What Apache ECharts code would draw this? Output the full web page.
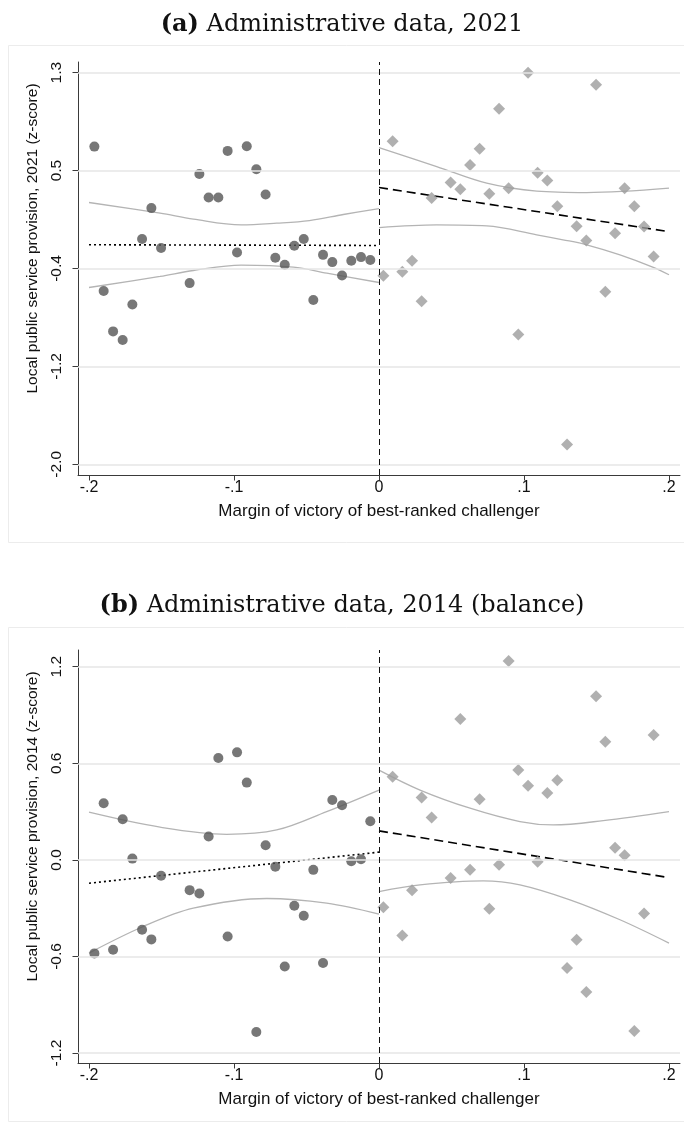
<!DOCTYPE html>
<html><head><meta charset="utf-8">
<script src="https://cdn.jsdelivr.net/npm/echarts@6/dist/echarts.min.js"></script>
<style>html,body{margin:0;padding:0;background:#fff}#c{width:684px;height:1130px}</style>
</head><body><div id="c"></div>
<script>
// ---------- axes ----------
const xTicks = [-0.2, -0.1, 0, 0.1, 0.2];
const xTickLabels = ['-.2', '-.1', '0', '.1', '.2'];
const yTicksA = [-2.0, -1.175, -0.35, 0.475, 1.3];
const yTickLabelsA = ['-2.0', '-1.2', '-0.4', '0.5', '1.3'];
const yTicksB = [-1.2, -0.6, 0, 0.6, 1.2];
const yTickLabelsB = ['-1.2', '-0.6', '0.0', '0.6', '1.2'];

// ---------- bin centres (running variable) ----------
const leftBins = [-0.1963,-0.1899,-0.1834,-0.1768,-0.1701,-0.1634,-0.1570,-0.1503,-0.1306,-0.1239,-0.1175,-0.1108,-0.1044,-0.0979,-0.0912,-0.0846,-0.0782,-0.0715,-0.0650,-0.0584,-0.0519,-0.0453,-0.0386,-0.0322,-0.0255,-0.0191,-0.0124,-0.0060];
const rightBins = [0.0030,0.0094,0.0161,0.0228,0.0294,0.0363,0.0494,0.0561,0.0628,0.0694,0.0761,0.0828,0.0894,0.0961,0.1028,0.1094,0.1161,0.1230,0.1297,0.1363,0.1430,0.1497,0.1561,0.1628,0.1694,0.1761,0.1828,0.1894];

// ---------- panel (a): 2021 ----------
const leftA = [0.677,-0.540,-0.880,-0.953,-0.653,-0.102,0.159,-0.178,-0.473,0.447,0.248,0.248,0.641,-0.215,0.680,0.487,0.273,-0.260,-0.319,-0.159,-0.102,-0.616,-0.235,-0.296,-0.409,-0.285,-0.254,-0.279];
const rightA = [-0.411,0.722,-0.378,-0.285,-0.625,0.243,0.374,0.318,0.523,0.660,0.279,0.997,0.327,-0.906,1.300,0.456,0.391,0.175,-1.834,0.007,-0.114,1.199,-0.546,-0.052,0.327,0.175,0.004,-0.249];
const fitLeftA = [[-0.2,-0.150],[0,-0.156]];
const fitRightA = [[0,0.332],[0.2,-0.039]];
const ciLeftUpA = [[-0.2,0.206],[-0.151,0.116],[-0.128,0.066],[-0.095,0.018],[-0.0706,0.032],[-0.048,0.054],[-0.0246,0.105],[0,0.155]];
const ciLeftLoA = [[-0.2,-0.510],[-0.151,-0.417],[-0.128,-0.367],[-0.095,-0.321],[-0.059,-0.338],[-0.036,-0.389],[0,-0.468]];
const ciRightUpA = [[0,0.669],[0.0398,0.509],[0.0743,0.369],[0.1088,0.302],[0.1432,0.290],[0.2,0.327]];
const ciRightLoA = [[0,-0.005],[0.0398,0.018],[0.0743,0.009],[0.1088,-0.066],[0.1269,-0.108],[0.1432,-0.150],[0.1662,-0.235],[0.1892,-0.340],[0.2,-0.403]];

// ---------- panel (b): 2014 (balance) ----------
const leftB = [-0.581,0.352,-0.558,0.252,0.008,-0.434,-0.494,-0.099,-0.188,-0.209,0.145,0.633,-0.476,0.668,0.480,-1.069,0.091,-0.042,-0.662,-0.285,-0.347,-0.062,-0.641,0.372,0.339,-0.008,0.004,0.240];
const rightB = [-0.294,0.517,-0.470,-0.188,0.387,0.263,-0.112,0.875,-0.062,0.377,-0.304,-0.031,1.235,0.558,0.461,-0.012,0.416,0.494,-0.672,-0.496,-0.821,1.016,0.734,0.076,0.029,-1.063,-0.333,0.776];
const fitLeftB = [[-0.2,-0.145],[0,0.048]];
const fitRightB = [[0,0.180],[0.2,-0.110]];
const ciLeftUpB = [[-0.2,0.296],[-0.151,0.203],[-0.105,0.159],[-0.0706,0.186],[-0.0361,0.300],[0,0.434]];
const ciLeftLoB = [[-0.2,-0.579],[-0.1626,-0.414],[-0.1281,-0.300],[-0.0774,-0.240],[-0.0361,-0.269],[0,-0.337]];
const ciRightUpB = [[0,0.558],[0.0283,0.434],[0.0628,0.321],[0.0972,0.238],[0.1202,0.217],[0.1547,0.244],[0.2,0.300]];
const ciRightLoB = [[0,-0.197],[0.0283,-0.155],[0.0719,-0.130],[0.0972,-0.155],[0.1317,-0.248],[0.1662,-0.372],[0.2,-0.517]];

const FONT = 'Liberation Sans';
const SERIF = 'DejaVu Serif';

function labelOf(ticks, labels) {
  return function (v) {
    let bi = 0, bd = Infinity;
    ticks.forEach((t, i) => { const d = Math.abs(t - v); if (d < bd) { bd = d; bi = i; } });
    return labels[bi];
  };
}

function xAxisFor(gi) {
  return {
    type: 'value', gridIndex: gi, min: -0.2076, max: 0.2076,
    axisLine: { show: true, onZero: false, lineStyle: { color: '#3a3a3a', width: 1 } },
    axisTick: { show: true, length: 5.5, customValues: xTicks, lineStyle: { color: '#3a3a3a' } },
    axisLabel: { customValues: xTicks, formatter: labelOf(xTicks, xTickLabels), fontSize: 16, color: '#111', fontFamily: FONT, margin: 5 },
    splitLine: { show: false },
    name: 'Margin of victory of best-ranked challenger', nameLocation: 'middle', nameGap: 28,
    nameTextStyle: { fontSize: 17, color: '#111', fontFamily: FONT }
  };
}
function yAxisFor(gi, min, max, ticks, labels, name) {
  return {
    type: 'value', gridIndex: gi, min: min, max: max,
    axisLine: { show: true, onZero: false, lineStyle: { color: '#3a3a3a', width: 1 } },
    axisTick: { show: true, length: 5.5, customValues: ticks, lineStyle: { color: '#3a3a3a' } },
    axisLabel: { customValues: ticks, formatter: labelOf(ticks, labels), rotate: 90, fontSize: 15.5, color: '#111', fontFamily: FONT, margin: 13 },
    splitLine: { show: false },
    name: name, nameLocation: 'middle', nameGap: 33, nameRotate: 90,
    nameTextStyle: { fontSize: 15.5, color: '#111', fontFamily: FONT, padding: [0, 0, 0, 60] }
  };
}

function panelSeries(gi, yTicks, left, right, fl, fr, clu, cll, cru, crl) {
  const base = { xAxisIndex: gi, yAxisIndex: gi, silent: true, animation: false };
  const ci = (d) => Object.assign({}, base, { type: 'line', data: d, smooth: 0.35, showSymbol: false, z: 2, lineStyle: { color: '#b4b4b4', width: 1.3 } });
  return [
    Object.assign({}, base, {
      type: 'scatter', data: [], z: 1,
      markLine: {
        silent: true, symbol: 'none', animation: false, label: { show: false },
        data: yTicks.map(v => ({ yAxis: v, lineStyle: { color: '#e6e6e6', width: 1.5, type: 'solid' } }))
          .concat([{ xAxis: 0, lineStyle: { color: '#111', width: 1, type: [6, 4] } }])
      }
    }),
    ci(clu), ci(cll), ci(cru), ci(crl),
    Object.assign({}, base, { type: 'line', data: fl, showSymbol: false, z: 3, lineStyle: { color: '#000', width: 1.6, type: [2, 3] } }),
    Object.assign({}, base, { type: 'line', data: fr, showSymbol: false, z: 3, lineStyle: { color: '#000', width: 1.6, type: [9, 5] } }),
    Object.assign({}, base, { type: 'scatter', z: 4, symbol: 'circle', symbolSize: 10, itemStyle: { color: '#555555' }, data: leftBins.map((x, i) => [x, left[i]]) }),
    Object.assign({}, base, { type: 'scatter', z: 4, symbol: 'diamond', symbolSize: [12, 12], itemStyle: { color: '#9c9c9c' }, data: rightBins.map((x, i) => [x, right[i]]) })
  ];
}

const chart = echarts.init(document.getElementById('c'), null, { renderer: 'canvas' });
chart.setOption({
  animation: false,
  backgroundColor: '#fff',
  graphic: [
    { type: 'rect', shape: { x: 8.5, y: 45.5, width: 690, height: 497 }, style: { fill: 'none', stroke: '#ececec', lineWidth: 1 }, z: -10, silent: true },
    { type: 'rect', shape: { x: 8.5, y: 627.5, width: 690, height: 494 }, style: { fill: 'none', stroke: '#ececec', lineWidth: 1 }, z: -10, silent: true }
  ],
  title: [
    { text: '{b|(a)} Administrative data, 2021', left: 'center', top: 8,
      textStyle: { fontFamily: SERIF, fontSize: 24, fontWeight: 'normal', color: '#111', rich: { b: { fontFamily: SERIF, fontSize: 24, fontWeight: 'bold', color: '#111' } } } },
    { text: '{b|(b)} Administrative data, 2014 (balance)', left: 'center', top: 589,
      textStyle: { fontFamily: SERIF, fontSize: 24, fontWeight: 'normal', color: '#111', rich: { b: { fontFamily: SERIF, fontSize: 24, fontWeight: 'bold', color: '#111' } } } }
  ],
  grid: [
    { left: 78, top: 62, width: 602, height: 413 },
    { left: 78, top: 650, width: 602, height: 413 }
  ],
  xAxis: [xAxisFor(0), xAxisFor(1)],
  yAxis: [
    yAxisFor(0, -2.09, 1.39, yTicksA, yTickLabelsA, 'Local public service provision, 2021 (z-score)'),
    yAxisFor(1, -1.262, 1.304, yTicksB, yTickLabelsB, 'Local public service provision, 2014 (z-score)')
  ],
  series: [].concat(
    panelSeries(0, yTicksA, leftA, rightA, fitLeftA, fitRightA, ciLeftUpA, ciLeftLoA, ciRightUpA, ciRightLoA),
    panelSeries(1, yTicksB, leftB, rightB, fitLeftB, fitRightB, ciLeftUpB, ciLeftLoB, ciRightUpB, ciRightLoB)
  )
});
</script></body></html>
